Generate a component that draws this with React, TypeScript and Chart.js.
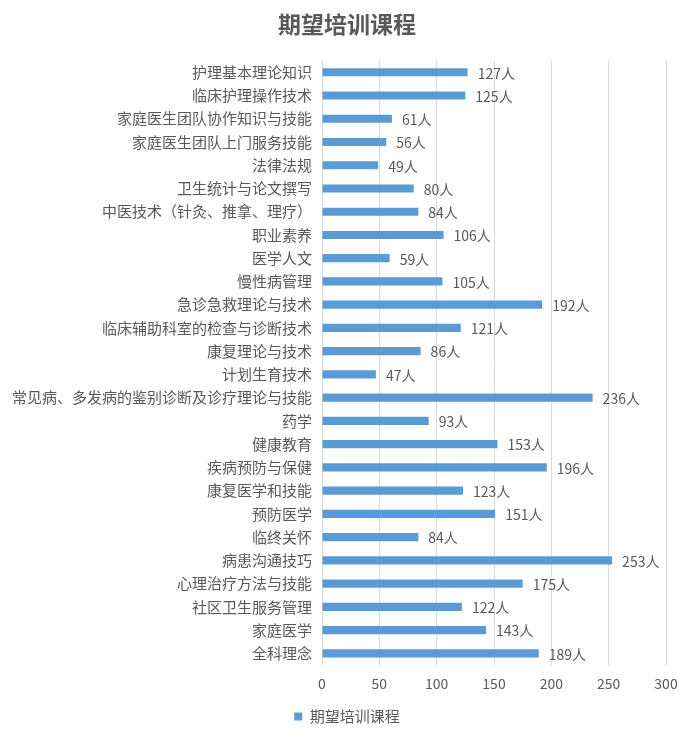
import React, { useEffect, useRef } from "react";
import { Chart, registerables } from "chart.js";

Chart.register(...registerables);

const categories = [
  "护理基本理论知识",
  "临床护理操作技术",
  "家庭医生团队协作知识与技能",
  "家庭医生团队上门服务技能",
  "法律法规",
  "卫生统计与论文撰写",
  "中医技术（针灸、推拿、理疗）",
  "职业素养",
  "医学人文",
  "慢性病管理",
  "急诊急救理论与技术",
  "临床辅助科室的检查与诊断技术",
  "康复理论与技术",
  "计划生育技术",
  "常见病、多发病的鉴别诊断及诊疗理论与技能",
  "药学",
  "健康教育",
  "疾病预防与保健",
  "康复医学和技能",
  "预防医学",
  "临终关怀",
  "病患沟通技巧",
  "心理治疗方法与技能",
  "社区卫生服务管理",
  "家庭医学",
  "全科理念",
];

const values = [127, 125, 61, 56, 49, 80, 84, 106, 59, 105, 192, 121, 86, 47, 236, 93, 153, 196, 123, 151, 84, 253, 175, 122, 143, 189];

const seriesName = "期望培训课程";
const titleText = "期望培训课程";
const unit = "人";

const FONT = "'Noto Sans CJK SC', 'Noto Sans', sans-serif";
const TEXT = "#595959";

const valueLabels = {
  id: "valueLabels",
  afterDatasetsDraw(chart: any) {
    const ctx = chart.ctx;
    const meta = chart.getDatasetMeta(0);
    ctx.save();
    ctx.font = `14px ${FONT}`;
    ctx.fillStyle = TEXT;
    ctx.textBaseline = "middle";
    ctx.textAlign = "left";
    meta.data.forEach((bar: any, i: number) => {
      ctx.fillText(`${values[i]}${unit}`, bar.x + 10, bar.y + 1);
    });
    ctx.restore();
  },
};

export default function App() {
  const ref = useRef<HTMLCanvasElement | null>(null);
  useEffect(() => {
    if (!ref.current) return;
    const chart = new Chart(ref.current, {
      type: "bar",
      data: {
        labels: categories,
        datasets: [
          {
            label: seriesName,
            data: values,
            backgroundColor: "#5b9bd5",
            barPercentage: 0.35,
            categoryPercentage: 1,
          },
        ],
      },
      options: {
        indexAxis: "y",
        animation: false,
        responsive: false,
        maintainAspectRatio: false,
        layout: { padding: { left: 0, right: 0, top: 0, bottom: 4 } },
        scales: {
          x: {
            min: 0,
            max: 300,
            ticks: { stepSize: 50, color: TEXT, font: { family: FONT, size: 14 }, padding: 10 },
            grid: { color: "#d9d9d9", drawTicks: false },
            border: { display: false },
            afterFit(scale: any) {
              scale.height = 30;
            },
          },
          y: {
            ticks: { color: TEXT, font: { family: FONT, size: 15 }, padding: 2, autoSkip: false },
            grid: { display: false },
            border: { display: false },
            afterFit(scale: any) {
              scale.width = 322;
            },
          },
          yRight: {
            type: "category",
            position: "right",
            labels: categories,
            ticks: { display: false },
            grid: { display: false },
            border: { display: false },
            afterFit(scale: any) {
              scale.width = 28;
            },
          },
        },
        plugins: {
          title: {
            display: true,
            text: titleText,
            color: TEXT,
            font: { family: FONT, size: 23, weight: "bold" },
            padding: { top: 10, bottom: 23 },
          },
          legend: {
            display: true,
            position: "bottom",
            labels: {
              color: TEXT,
              font: { family: FONT, size: 15 },
              boxWidth: 8,
              boxHeight: 8,
              padding: 14,
            },
          },
          tooltip: { enabled: false },
        },
      },
      plugins: [valueLabels],
    });
    return () => chart.destroy();
  }, []);
  return (
    <div style={{ position: "fixed", left: 0, top: 0, width: 694, height: 738, background: "#fff" }}>
      <canvas ref={ref} width={694} height={738} style={{ width: 694, height: 738 }} />
    </div>
  );
}
